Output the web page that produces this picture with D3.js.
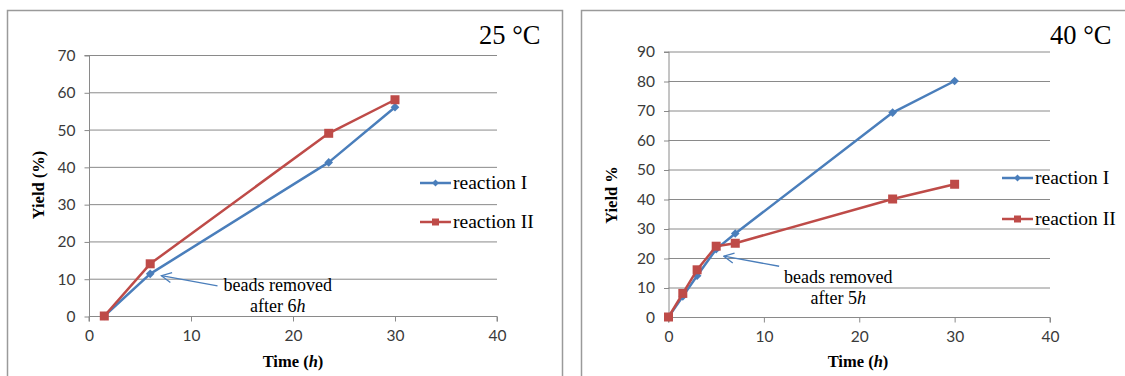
<!DOCTYPE html>
<html>
<head>
<meta charset="utf-8">
<script src="https://cdn.jsdelivr.net/npm/d3@7"></script>
<style>
  body { margin: 0; background: #fff; }
  svg { display: block; }
</style>
</head>
<body>
<script>
// 25 °C panel
var time25 = [1.5, 6, 23.5, 30];
var yieldI25 = [0, 11.3, 41.2, 56];
var yieldII25 = [0, 14, 49, 58];
var yTicks25 = [0, 10, 20, 30, 40, 50, 60, 70];

// 40 °C panel
var time40 = [0, 1.5, 3, 5, 7, 23.5, 30];
var yieldI40 = [0, 7, 14, 23, 28.3, 69.3, 80];
var yieldII40 = [0, 8, 16, 24, 25, 40, 45];
var yTicks40 = [0, 10, 20, 30, 40, 50, 60, 70, 80, 90];

var xTicks = [0, 10, 20, 30, 40];
var seriesNames = ["reaction I", "reaction II"];

var blue = "#4a7ebb", red = "#be4b48", grid = "#8a8a8a";
var serif = "'Liberation Serif', 'Times New Roman', serif";
var sans = "Lato, 'Open Sans', sans-serif";

var svg = d3.select("body").append("svg")
  .attr("width", 1125)
  .attr("height", 376);

var defs = svg.append("defs");
defs.append("marker")
  .attr("id", "openArrow")
  .attr("markerUnits", "userSpaceOnUse")
  .attr("viewBox", "-1 -6 12 12")
  .attr("markerWidth", 12)
  .attr("markerHeight", 12)
  .attr("refX", 10)
  .attr("refY", 0)
  .attr("orient", "auto-start-reverse")
  .append("path")
  .attr("d", "M0,-5L10,0L0,5")
  .attr("fill", "none")
  .attr("stroke", blue)
  .attr("stroke-width", 1.3);

function drawPanel(p) {
  var g = svg.append("g");

  // panel border (open at the bottom)
  g.append("path")
    .attr("d", d3.line()([[p.bx0, 380], [p.bx0, p.by0], [p.bx1, p.by0], [p.bx1, 380]]))
    .attr("fill", "none")
    .attr("stroke", "#9a9a9a")
    .attr("stroke-width", 1.5);

  var x = d3.scaleLinear().domain([0, 40]).range(p.xr);
  var y = d3.scaleLinear().domain([0, p.ymax]).range(p.yr);

  // gridlines
  g.append("g").selectAll("line")
    .data(p.yTicks.filter(function(d) { return d > 0; }))
    .enter().append("line")
    .attr("x1", x(0)).attr("x2", x(40))
    .attr("y1", function(d) { return y(d) + 0.5; })
    .attr("y2", function(d) { return y(d) + 0.5; })
    .attr("stroke", grid)
    .attr("stroke-width", 1);

  var yAxis = g.append("g")
    .attr("transform", "translate(" + (x(0) + 0.5) + ",0.5)")
    .call(d3.axisLeft(y).tickValues(p.yTicks).tickSize(5).tickPadding(9));
  var xAxis = g.append("g")
    .attr("transform", "translate(0," + (y(0) + 0.5) + ")")
    .call(d3.axisBottom(x).tickValues(xTicks).tickSize(5).tickPadding(8));
  [yAxis, xAxis].forEach(function(a) {
    a.select(".domain").attr("stroke", grid);
    a.selectAll(".tick line").attr("stroke", grid);
    a.selectAll("text")
      .attr("fill", "#3a3a3a")
      .style("font-family", sans)
      .style("font-size", "15.5px");
  });
  yAxis.select(".domain").attr("d", "M-5," + y(p.ymax) + "H0V" + y(0));
  xAxis.select(".domain").attr("d", "M" + x(0) + ",5V0H" + x(40) + "V5");

  // axis titles
  g.append("text")
    .attr("transform", "translate(" + p.yTitleX + "," + p.yTitleY + ") rotate(-90)")
    .attr("text-anchor", "middle")
    .style("font-family", serif).style("font-size", "16.5px").style("font-weight", "bold")
    .text(p.yTitle);
  var tt = g.append("text")
    .attr("x", p.xTitleX).attr("y", 367)
    .attr("text-anchor", "middle")
    .style("font-family", serif).style("font-size", "16.5px").style("font-weight", "bold");
  tt.append("tspan").text("Time (");
  tt.append("tspan").style("font-style", "italic").text("h");
  tt.append("tspan").text(")");

  // temperature title
  g.append("text")
    .attr("x", p.titleX).attr("y", 44)
    .style("font-family", serif).style("font-size", "26.5px")
    .text(p.title);

  var line = d3.line()
    .x(function(d) { return x(d[0]); })
    .y(function(d) { return y(d[1]); });

  p.series.forEach(function(s, i) {
    var pts = s.t.map(function(t, j) { return [t, s.v[j]]; });
    g.append("path")
      .attr("d", line(pts))
      .attr("fill", "none")
      .attr("stroke", s.color)
      .attr("stroke-width", 2.5)
      .attr("stroke-linejoin", "round");
    g.append("g").selectAll("path")
      .data(pts)
      .enter().append("path")
      .attr("transform", function(d) { return "translate(" + x(d[0]) + "," + y(d[1]) + ")"; })
      .attr("d", i === 0 ? d3.symbol().type(d3.symbolDiamond2).size(48)() : d3.symbol().type(d3.symbolSquare).size(81)())
      .attr("fill", s.color);

    // legend
    var ly = p.legendY[i];
    g.append("line")
      .attr("x1", p.legendX).attr("x2", p.legendX + 31)
      .attr("y1", ly).attr("y2", ly)
      .attr("stroke", s.color).attr("stroke-width", 2.5);
    g.append("path")
      .attr("transform", "translate(" + (p.legendX + 15.5) + "," + ly + ")")
      .attr("d", i === 0 ? d3.symbol().type(d3.symbolDiamond2).size(30)() : d3.symbol().type(d3.symbolSquare).size(49)())
      .attr("fill", s.color);
    g.append("text")
      .attr("x", p.legendX + 33).attr("y", ly + 6)
      .style("font-family", serif).style("font-size", "19.5px")
      .text(seriesNames[i]);
  });

  // annotation
  var a = p.note;
  g.append("line")
    .attr("x1", x(a.tip[0])).attr("y1", y(a.tip[1]))
    .attr("x2", x(a.tail[0])).attr("y2", y(a.tail[1]))
    .attr("stroke", blue).attr("stroke-width", 1.3)
    .attr("marker-start", "url(#openArrow)");
  g.append("text")
    .attr("x", x(a.textX)).attr("y", y(a.textY[0]))
    .attr("text-anchor", "middle")
    .style("font-family", serif).style("font-size", "18px")
    .text("beads removed");
  var t2 = g.append("text")
    .attr("x", x(a.textX)).attr("y", y(a.textY[1]))
    .attr("text-anchor", "middle")
    .style("font-family", serif).style("font-size", "18px");
  t2.append("tspan").text("after " + a.hours);
  t2.append("tspan").style("font-style", "italic").text("h");
}

drawPanel({
  bx0: 7.5, bx1: 562.5, by0: 10.5,
  xr: [89, 497], yr: [316, 55], ymax: 70, yTicks: yTicks25,
  yTitle: "Yield (%)", yTitleX: 44, yTitleY: 185, xTitleX: 293,
  title: "25 °C", titleX: 479,
  legendX: 420, legendY: [183, 222],
  series: [
    { t: time25, v: yieldI25, color: blue },
    { t: time25, v: yieldII25, color: red }
  ],
  note: { tip: [7.1, 10.8], tail: [12.6, 8.1], textX: 18.5, textY: [6.6, 1.0], hours: "6" }
});

drawPanel({
  bx0: 581.5, bx1: 1130, by0: 10.5,
  xr: [668.5, 1050], yr: [317, 51.5], ymax: 90, yTicks: yTicks40,
  yTitle: "Yield %", yTitleX: 617, yTitleY: 195, xTitleX: 858,
  title: "40 °C", titleX: 1050,
  legendX: 1002, legendY: [178, 219],
  series: [
    { t: time40, v: yieldI40, color: blue },
    { t: time40, v: yieldII40, color: red }
  ],
  note: { tip: [5.8, 20.6], tail: [11.6, 17.2], textX: 17.8, textY: [11.5, 4.4], hours: "5" }
});
</script>
</body>
</html>
